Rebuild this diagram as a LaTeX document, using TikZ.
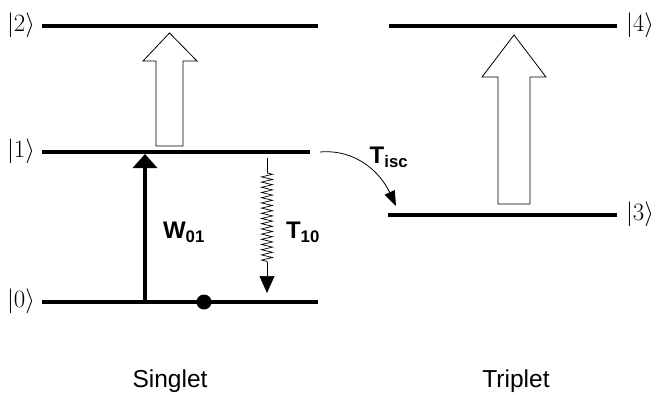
\documentclass[tikz,border=0pt]{standalone}
\usepackage{fontspec}
\setmainfont{Liberation Serif}
\setsansfont{Liberation Sans}
\usetikzlibrary{arrows.meta,decorations.pathmorphing}
\begin{document}
\begin{tikzpicture}[x=1pt,y=-1pt,
  level/.style={line width=4pt},
  ket/.style={font=\fontsize{23}{23}\selectfont},
  lab/.style={font=\sffamily\bfseries\fontsize{24}{24}\selectfont},
  captext/.style={font=\sffamily\fontsize{24.5}{24.5}\selectfont},
  hollow/.style={draw=black,fill=white,line width=0.8pt,line join=miter}]
\useasboundingbox (0,0) rectangle (658,394);
% levels
\coordinate (l2a) at (42,26);  \coordinate (l2b) at (318,26);
\coordinate (l1a) at (42,152); \coordinate (l1b) at (310,152);
\coordinate (l0a) at (42,302); \coordinate (l0b) at (318,302);
\coordinate (l4a) at (389,26); \coordinate (l4b) at (617,26);
\coordinate (l3a) at (388,215);\coordinate (l3b) at (617,215);
\draw[level] (l2a) -- (l2b);
\draw[level] (l1a) -- (l1b);
\draw[level] (l0a) -- (l0b);
\draw[level] (l4a) -- (l4b);
\draw[level] (l3a) -- (l3b);
% kets
\node[ket] (k2) at (21,25) {$|2\rangle$};
\node[ket] (k1) at (21,151) {$|1\rangle$};
\node[ket] (k0) at (21,301) {$|0\rangle$};
\node[ket] (k4) at (640,25) {$|4\rangle$};
\node[ket] (k3) at (640,214) {$|3\rangle$};
% hollow arrows
\draw[hollow] (156,146) -- (156,61) -- (143,61) -- (169.5,33) -- (197,61) -- (183,61) -- (183,146) -- cycle;
\draw[hollow] (498,204) -- (498,77) -- (482,77) -- (514,35) -- (546,77) -- (530,77) -- (530,204) -- cycle;
% W01
\coordinate (w0) at (145,302);
\coordinate (w1) at (145,154);
\draw[line width=3.5pt,-{Triangle[length=14pt,width=24pt]}] (w0) -- (w1);
\node[lab] (W) at (184,232) {W\textsubscript{01}};
% dot
\fill (204,302) circle (7.5);
% T10
\coordinate (t0) at (267,158);
\coordinate (t1) at (267,173);
\coordinate (t2) at (267,262);
\coordinate (t3) at (267,293);
\draw[line width=0.7pt] (t0) -- (t1);
\draw[line width=0.7pt,decorate,decoration={zigzag,segment length=5.2pt,amplitude=5.5pt}] (t1) -- (t2);
\draw[line width=0.7pt,-{Triangle[length=17pt,width=15pt]}] (t2) -- (t3);
\node[lab] (T10) at (303,232) {T\textsubscript{10}};
% Tisc
\coordinate (i0) at (320,152);
\coordinate (i1) at (396,206);
\draw[line width=0.8pt,-{Triangle[length=15pt,width=11pt]}] (i0) to[out=5,in=115] (i1);
\node[lab] (Ti) at (389,157) {T\textsubscript{isc}};
% captions
\node[captext] (S) at (170,381) {Singlet};
\node[captext] (Tr) at (516,381) {Triplet};
\end{tikzpicture}
\end{document}
